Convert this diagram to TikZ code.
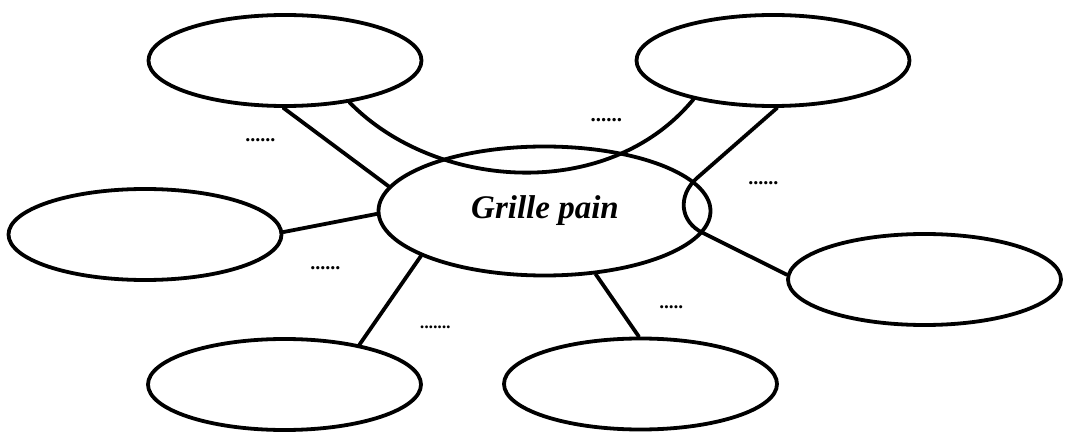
\documentclass[tikz,border=0pt]{standalone}
\usepackage{fontspec}
\setmainfont{Liberation Serif}
\usetikzlibrary{shapes.geometric}
\newcommand{\dotsize}[1]{\fontsize{#1}{#1}\selectfont\bfseries\itshape}
\tikzset{
  line/.style={line width=3.8pt, line cap=round, line join=round},
  bubble/.style={ellipse, draw, line width=3.8pt, inner sep=0pt, minimum width=273pt, minimum height=91pt},
  centre/.style={ellipse, draw, line width=3.8pt, inner sep=0pt, minimum width=332pt, minimum height=129pt},
  dotlbl/.style={inner sep=0pt, anchor=center}
}
\begin{document}
\begin{tikzpicture}[x=1pt,y=-1pt]
\useasboundingbox (0,0) rectangle (1065,438);
\node[bubble] (tl) at (285,60.5) {};
\node[bubble] (tr) at (773,60.5) {};
\node[bubble] (l)  at (145,234.5) {};
\node[bubble] (r)  at (924.5,279.5) {};
\node[bubble] (bl) at (284.5,384.5) {};
\node[bubble] (br) at (640.5,384) {};
\node[centre] (c) at (544.5,211) {};
\node[anchor=base, inner sep=0pt, font=\fontsize{33}{33}\selectfont\bfseries\itshape] (t) at (545,219) {Grille pain};
\coordinate (k1) at (697,178);
\coordinate (k2) at (703,233);
\draw[line] (tl.268) -- (c.171);
\draw[line] (tl.327) .. controls (435,190) and (608,203) .. (tr.206);
\draw[line] (tr.275) -- (k1) .. controls (677,196) and (680,222) .. (k2) -- (r.178);
\draw[line] (l.1) -- (c.181);
\draw[line] (bl.28) -- (c.200);
\draw[line] (br.92) -- (c.309);
% labels
\node[dotlbl, font=\dotsize{20}] (d1) at (261,140) {......};
\node[dotlbl, font=\dotsize{21}] (d2) at (607,120) {......};
\node[dotlbl, font=\dotsize{20}] (d3) at (764,183) {......};
\node[dotlbl, font=\dotsize{20}] (d4) at (326,268) {......};
\node[dotlbl, font=\dotsize{17.5}] (d5) at (436,327) {.......};
\node[dotlbl, font=\dotsize{19}] (d6) at (672,307) {.....};
\end{tikzpicture}
\end{document}
